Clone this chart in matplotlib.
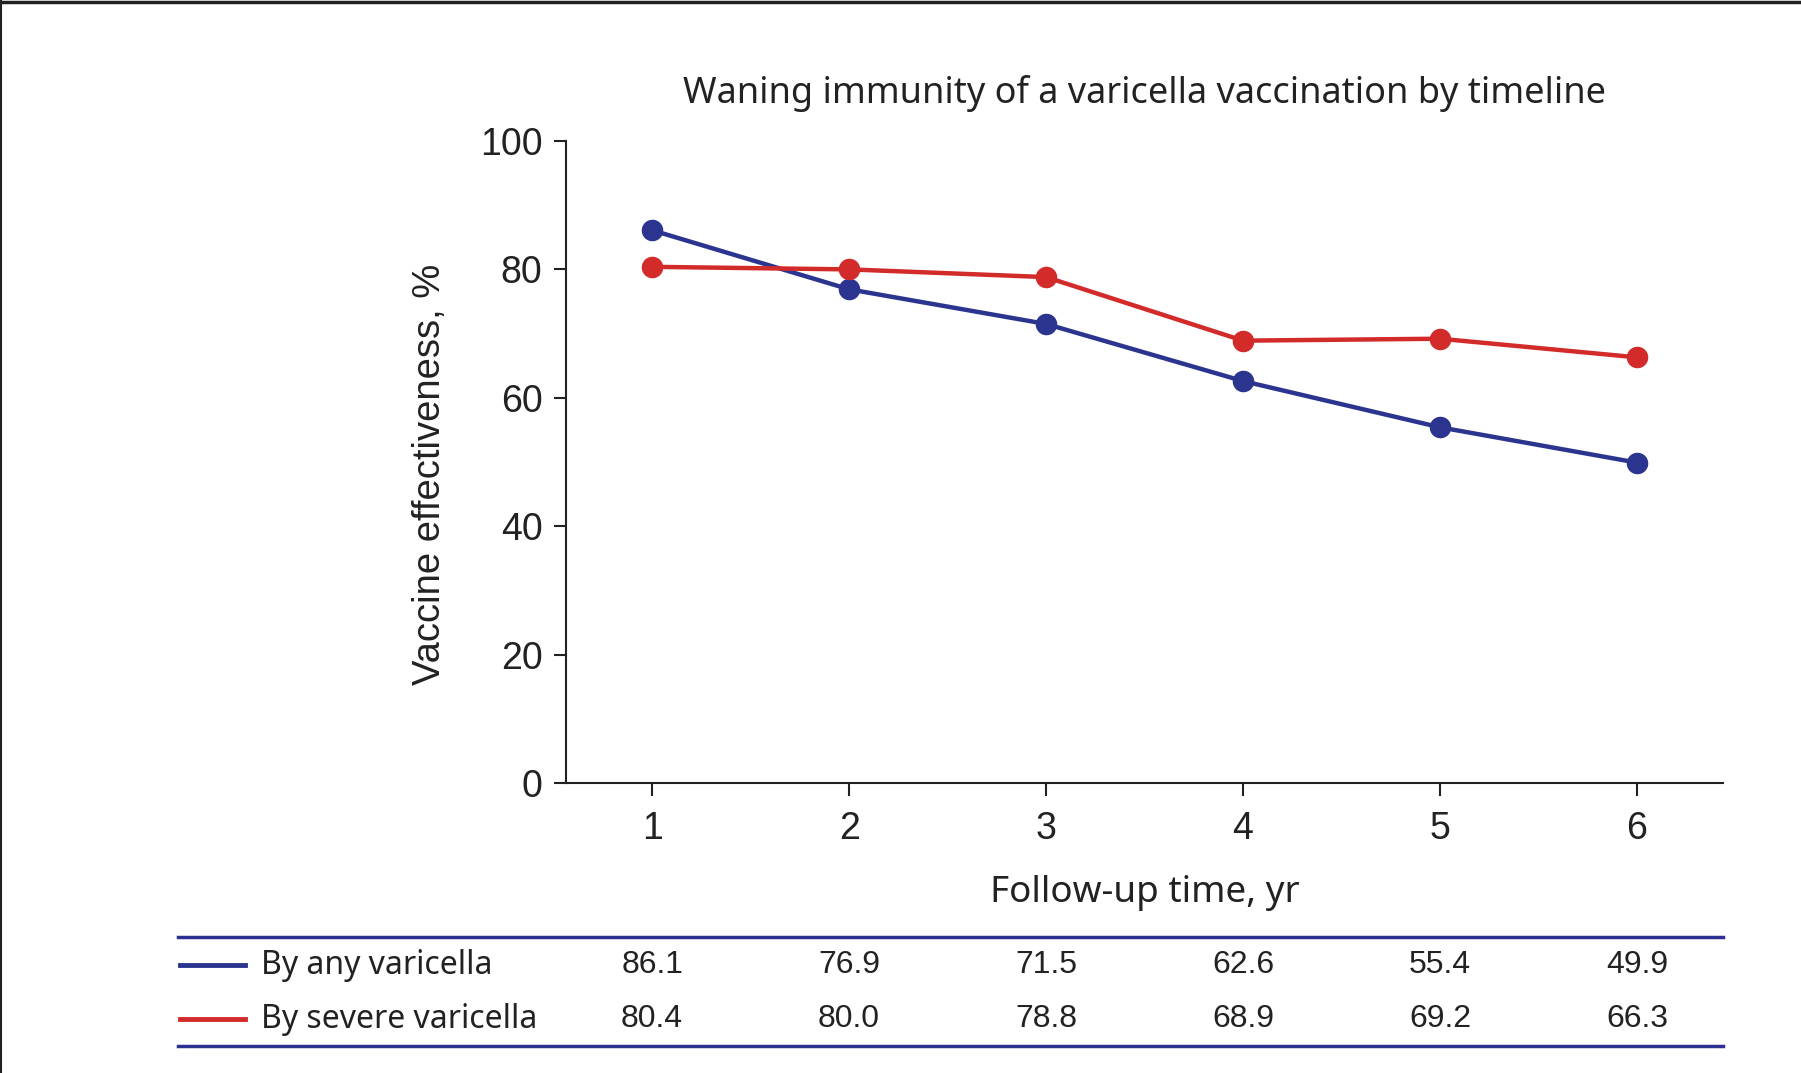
import matplotlib
matplotlib.use("Agg")
import matplotlib.pyplot as plt
from matplotlib.lines import Line2D
from matplotlib.transforms import blended_transform_factory

# Datos
years = [1, 2, 3, 4, 5, 6]
any_varicella = [86.1, 76.9, 71.5, 62.6, 55.4, 49.9]
severe_varicella = [80.4, 80.0, 78.8, 68.9, 69.2, 66.3]
series_names = ["By any varicella", "By severe varicella"]
yticks = [0, 20, 40, 60, 80, 100]

blue = "#2b3590"
red = "#d32a2a"
navy = "#2e3192"
ink = "#222222"

title_font = "Noto Sans"
num_font = "Liberation Sans"

fig = plt.figure(figsize=(18.01, 10.73), dpi=100)
ax = fig.add_axes([0.3143, 0.2703, 0.6424, 0.5983])

ax.plot(years, any_varicella, color=blue, lw=3.2, marker="o", ms=14.5, zorder=3)
ax.plot(years, severe_varicella, color=red, lw=3.2, marker="o", ms=14.5, zorder=3)

ax.set_xlim(0.563, 6.437)
ax.set_ylim(0, 100)
ax.set_xticks(years)
ax.set_yticks(yticks)
ax.spines["top"].set_visible(False)
ax.spines["right"].set_visible(False)
for s in ("left", "bottom"):
    ax.spines[s].set_linewidth(1.5)
    ax.spines[s].set_color(ink)
ax.tick_params(length=9, width=1.5, color=ink, pad=8, labelsize=27)
ax.tick_params(axis="x", pad=11)
for lab in ax.get_xticklabels() + ax.get_yticklabels():
    lab.set_fontfamily(num_font)
    lab.set_color(ink)

ax.set_title("Waning immunity of a varicella vaccination by timeline",
             fontfamily=title_font, fontsize=26, color=ink, pad=27)
ax.set_xlabel("Follow-up time, yr", fontfamily=title_font, fontsize=26.5,
              color=ink, labelpad=20)
ax.set_ylabel("Vaccine effectiveness, %", fontfamily=num_font, fontsize=27.5,
              color=ink)
ax.yaxis.set_label_coords(-0.102, 0.481)

# Tabla debajo del grafico
x0, x1 = 0.0988, 0.9567
for yy in (0.1267, 0.0252):
    fig.add_artist(Line2D([x0, x1], [yy, yy], color=navy, lw=2.5))

trans = blended_transform_factory(ax.transData, fig.transFigure)
rows = [(any_varicella, blue, 0.1005), (severe_varicella, red, 0.0500)]
for name, (vals, col, yy) in zip(series_names, rows):
    fig.add_artist(Line2D([0.0999, 0.136], [yy, yy], color=col, lw=3.5))
    fig.text(0.1449, yy, name, fontfamily=title_font, fontsize=23,
             color=ink, va="center", ha="left")
    for xv, v in zip(years, vals):
        ax.text(xv, yy, f"{v:.1f}", transform=trans, fontfamily=num_font,
                fontsize=23, color=ink, va="center", ha="center")

# Borde superior e izquierdo
fig.add_artist(Line2D([0, 1], [0.998, 0.998], color=ink, lw=2.5))
fig.add_artist(Line2D([0.0006, 0.0006], [0, 1], color=ink, lw=1.5))

fig.savefig("out.png", dpi=100)
